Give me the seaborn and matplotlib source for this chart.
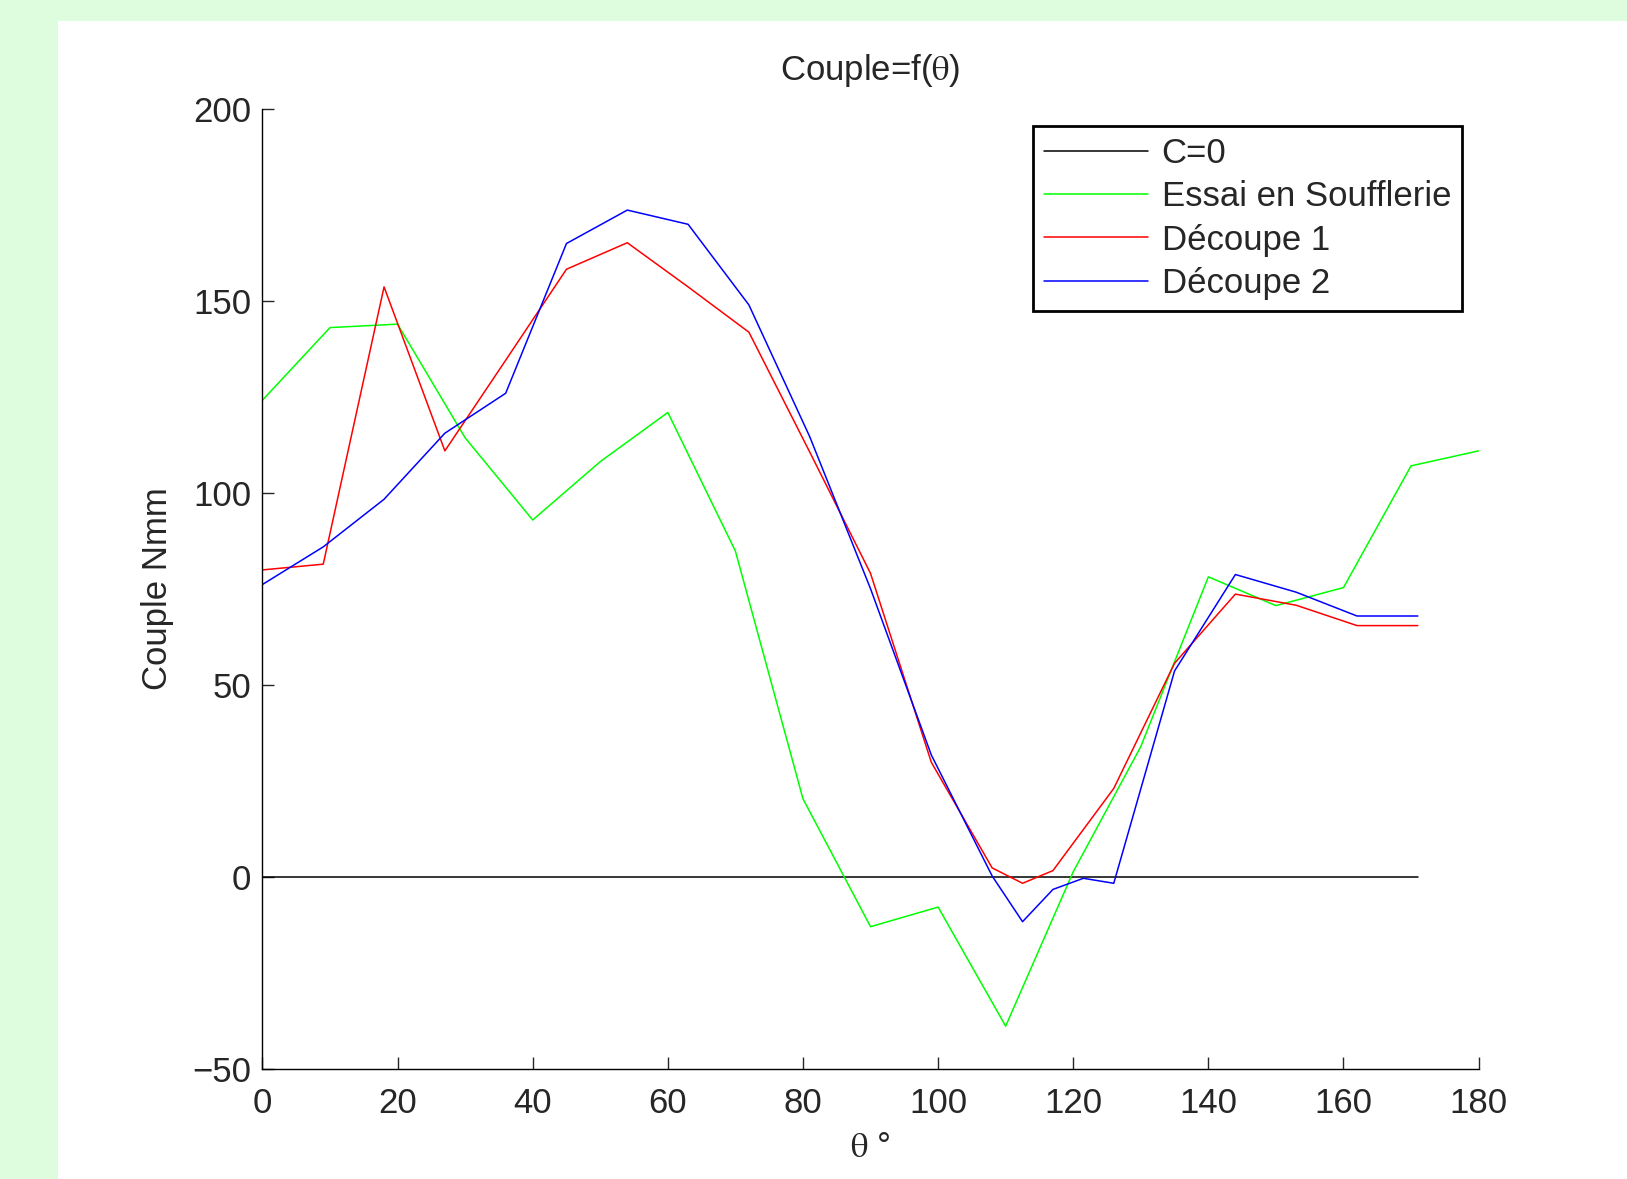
import numpy as np
import pandas as pd
import matplotlib
matplotlib.use('Agg')
import matplotlib.pyplot as plt
from matplotlib.patches import Rectangle
import seaborn as sns

# Values
theta_essai = [0, 10, 20, 30, 40, 50, 60, 70, 80, 90, 100, 110, 120, 130, 140, 150, 160, 170, 180]
couple_essai = [124.1, 143.0, 143.9, 114.3, 92.9, 108.1, 120.9, 84.8, 20.3, -13.0, -7.9, -38.9,
                1.3, 33.9, 78.1, 70.6, 75.3, 107.0, 110.9]

theta_decoupe = [0, 9, 18, 27, 36, 45, 54, 63, 72, 81, 90, 99, 108, 112.5, 117, 121.5, 126,
                 135, 144, 153, 162, 171]
couple_decoupe1 = [79.9, 81.4, 153.6, 110.9, 134.5, 158.2, 165.1, 153.6, 141.8, 110.6, 79.0, 29.8,
                   2.3, -1.7, 1.6, 12.3, 23.0, 55.6, 73.6, 70.7, 65.4, 65.4]
couple_decoupe2 = [76.1, 85.9, 98.3, 115.5, 125.9, 164.9, 173.6, 169.9, 148.9, 114.6, 75.0, 31.7,
                   0.2, -11.7, -3.3, -0.4, -1.7, 53.6, 78.7, 74.1, 67.9, 67.9]

theta_zero = [0, 171]
couple_zero = [0, 0]

x_ticks = [0, 20, 40, 60, 80, 100, 120, 140, 160, 180]
y_ticks = [-50, 0, 50, 100, 150, 200]

sns.set_style('ticks')
plt.rcParams['font.family'] = ['Liberation Sans', 'DejaVu Sans']
plt.rcParams['mathtext.fontset'] = 'stix'

fs = 25

fig = plt.figure(figsize=(16.27, 11.79), dpi=100, facecolor='#DEFDDE')
# white page area (green band on top and left only)
fig.add_artist(Rectangle((58 / 1627, 0), 1 - 58 / 1627, 1 - 21 / 1179,
                         transform=fig.transFigure, facecolor='white',
                         edgecolor='none', zorder=-10))

ax = fig.add_axes([0.1613, 0.0935, 0.7475, 0.8143])
ax.set_facecolor('white')

sns.lineplot(x=theta_zero, y=couple_zero, ax=ax, color='black', linewidth=1.1, label='C=0')
sns.lineplot(x=theta_essai, y=couple_essai, ax=ax, color='#00FF00', linewidth=1.1,
             label='Essai en Soufflerie')
sns.lineplot(x=theta_decoupe, y=couple_decoupe1, ax=ax, color='#FF0000', linewidth=1.1,
             label='Découpe 1')
sns.lineplot(x=theta_decoupe, y=couple_decoupe2, ax=ax, color='#0000FF', linewidth=1.1,
             label='Découpe 2')

ax.set_xlim(0, 180)
ax.set_ylim(-50, 200)
ax.set_xticks(x_ticks)
ax.set_yticks(y_ticks)
ax.tick_params(direction='in', length=8.5, width=1, labelsize=fs, pad=8)
ax.tick_params(axis='x', pad=13)
for side in ['top', 'right']:
    ax.spines[side].set_visible(False)
for side in ['left', 'bottom']:
    ax.spines[side].set_linewidth(1)
    ax.spines[side].set_color('black')

ax.set_title(r'Couple=f($\mathrm{\theta}$)', fontsize=fs, pad=21)
ax.set_xlabel(r'$\mathrm{\theta}$ °', fontsize=fs, labelpad=8)
ax.set_ylabel('Couple Nmm', fontsize=fs, labelpad=13)

leg = ax.legend(loc='upper right', bbox_to_anchor=(0.8988, 0.8934),
                bbox_transform=fig.transFigure, fontsize=fs, frameon=True,
                fancybox=False, edgecolor='black', framealpha=1,
                handlelength=3.0, handletextpad=0.4, labelspacing=0.3,
                borderaxespad=0, borderpad=0.32)
leg.get_frame().set_linewidth(2)

plt.savefig('out.png', dpi=100, facecolor=fig.get_facecolor())
